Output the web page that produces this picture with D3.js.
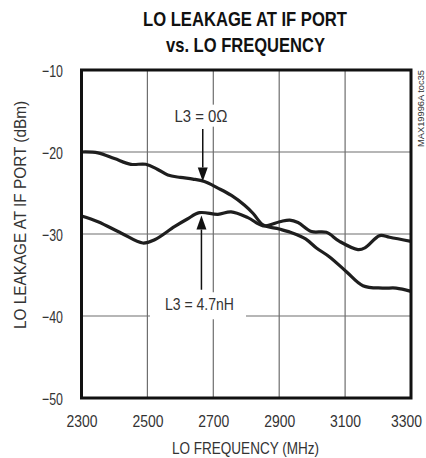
<!DOCTYPE html>
<html>
<head>
<meta charset="utf-8">
<script src="https://cdn.jsdelivr.net/npm/d3@7"></script>
<style>
  html, body { margin: 0; padding: 0; background: #fff; }
  svg { display: block; }
  text { font-family: "Liberation Sans Narrow", "Arial Narrow", "Liberation Sans", Arial, sans-serif; }
</style>
</head>
<body>
<svg id="chart" width="426" height="458"></svg>
<script>
// ---- data ----
const xTicks = [2300, 2500, 2700, 2900, 3100, 3300];
const yTicks = [-10, -20, -30, -40, -50];
const freq0 = [2300, 2350, 2400, 2450, 2495, 2530, 2562, 2600, 2638, 2673, 2714, 2755, 2795, 2821, 2851, 2900, 2942, 2980, 3013, 3053, 3104, 3154, 3214, 3255, 3300];
const val0  = [-20.0, -20.1, -20.8, -21.5, -21.5, -22.1, -22.8, -23.1, -23.3, -23.6, -24.4, -25.3, -26.5, -27.5, -28.9, -29.4, -29.9, -30.6, -31.7, -32.8, -34.6, -36.3, -36.6, -36.6, -37.0];
const freq47 = [2300, 2350, 2421, 2486, 2522, 2582, 2620, 2658, 2714, 2754, 2805, 2851, 2902, 2932, 2957, 2998, 3043, 3083, 3139, 3160, 3205, 3235, 3300];
const val47  = [-27.8, -28.5, -29.9, -31.1, -30.7, -29.1, -28.2, -27.4, -27.6, -27.3, -28.0, -29.0, -28.5, -28.3, -28.6, -29.7, -29.8, -30.9, -31.9, -31.7, -30.2, -30.4, -30.9];
const labels = ["L3 = 0\u03A9", "L3 = 4.7nH"];
// annotation anchors (data units): arrow x, tip value, tail value, label value
const arrow0  = { f: 2668, tip: -23.6, tail: -17.2, label: -16.3 };
const arrow47 = { f: 2664, tip: -27.75, tail: -36.8, label: -39.3 };

// ---- layout ----
const svg = d3.select("#chart");
const L = 81.5, R = 411, T = 70, B = 398;
const x = d3.scaleLinear().domain([2300, 3300]).range([L, R]);
const y = d3.scaleLinear().domain([-50, -10]).range([B, T]);

// title
svg.append("text").attr("x", 245).attr("y", 26).attr("text-anchor", "middle")
  .attr("font-weight", "bold").attr("font-size", 21).attr("fill", "#111")
  .attr("textLength", 204).attr("lengthAdjust", "spacingAndGlyphs")
  .text("LO LEAKAGE AT IF PORT");
svg.append("text").attr("x", 245.5).attr("y", 52).attr("text-anchor", "middle")
  .attr("font-weight", "bold").attr("font-size", 21).attr("fill", "#111")
  .attr("textLength", 159).attr("lengthAdjust", "spacingAndGlyphs")
  .text("vs. LO FREQUENCY");

// grid
const grid = svg.append("g");
grid.selectAll("line.gx").data(xTicks.slice(1, -1)).join("line")
  .attr("x1", d => x(d)).attr("x2", d => x(d)).attr("y1", T).attr("y2", B)
  .attr("stroke", "#6e6e6e").attr("stroke-width", 1.2);
grid.selectAll("line.gy").data(yTicks.slice(1, -1)).join("line")
  .attr("y1", d => y(d)).attr("y2", d => y(d)).attr("x1", L).attr("x2", R)
  .attr("stroke", "#6e6e6e").attr("stroke-width", 1.2);

// axes (labels only)
const xAxis = d3.axisBottom(x).tickValues(xTicks).tickSize(0).tickPadding(0).tickFormat(d3.format("d"));
const gx = svg.append("g").attr("transform", `translate(0,${B})`).call(xAxis);
gx.select(".domain").remove();
gx.selectAll("text").attr("dy", null).attr("y", 29).attr("font-size", 16).attr("fill", "#333")
  .attr("font-family", null)
  .attr("x", d => d === 3300 ? -5 : 0)
  .attr("textLength", 31).attr("lengthAdjust", "spacingAndGlyphs");

const yAxis = d3.axisLeft(y).tickValues(yTicks).tickSize(0).tickPadding(0).tickFormat(d3.format("d"));
const gy = svg.append("g").attr("transform", `translate(63,0)`).call(yAxis);
gy.select(".domain").remove();
gy.selectAll("text").attr("dy", null).attr("y", 6.5).attr("x", 0).attr("font-size", 17).attr("fill", "#333")
  .attr("font-family", null)
  .attr("textLength", 21).attr("lengthAdjust", "spacingAndGlyphs");

// axis titles
svg.append("text").attr("x", 245.5).attr("y", 454).attr("text-anchor", "middle")
  .attr("font-size", 16).attr("fill", "#333")
  .attr("textLength", 147).attr("lengthAdjust", "spacingAndGlyphs")
  .text("LO FREQUENCY (MHz)");
svg.append("text").attr("transform", `translate(26,215) rotate(-90)`).attr("text-anchor", "middle")
  .attr("font-size", 16).attr("fill", "#333")
  .attr("textLength", 228).attr("lengthAdjust", "spacingAndGlyphs")
  .text("LO LEAKAGE AT IF PORT (dBm)");
svg.append("text").attr("transform", `translate(424,147) rotate(-90)`).attr("text-anchor", "start")
  .attr("font-size", 9).attr("fill", "#333")
  .attr("textLength", 77).attr("lengthAdjust", "spacingAndGlyphs")
  .text("MAX19996A toc35");

// annotation label backgrounds
svg.append("rect").attr("x", 170).attr("y", y(arrow0.label) - 17).attr("width", 62).attr("height", 22).attr("fill", "#fff");
svg.append("rect").attr("x", 150).attr("y", y(arrow47.label) - 18).attr("width", 96).attr("height", 27).attr("fill", "#fff");

// curves
const line = d3.line().x(d => x(d[0])).y(d => y(d[1])).curve(d3.curveCatmullRom.alpha(0.5));
svg.append("path").datum(freq0.map((f, i) => [f, val0[i]])).attr("d", line)
  .attr("fill", "none").attr("stroke", "#1e1e1e").attr("stroke-width", 3.2).attr("stroke-linejoin", "round");
svg.append("path").datum(freq47.map((f, i) => [f, val47[i]])).attr("d", line)
  .attr("fill", "none").attr("stroke", "#1e1e1e").attr("stroke-width", 3.2).attr("stroke-linejoin", "round");

// arrows
function arrow(a, down) {
  const ax = x(a.f), tip = y(a.tip), tail = y(a.tail);
  const h = 14, w = 5;
  const base = down ? tip - h : tip + h;
  svg.append("line").attr("x1", ax).attr("x2", ax).attr("y1", tail).attr("y2", base)
    .attr("stroke", "#111").attr("stroke-width", 1.5);
  svg.append("path").attr("d", `M${ax},${tip}L${ax - w},${base}L${ax + w},${base}Z`).attr("fill", "#111");
}
arrow(arrow0, true);
arrow(arrow47, false);

svg.append("text").attr("x", 201).attr("y", y(arrow0.label)).attr("text-anchor", "middle")
  .attr("font-size", 16).attr("fill", "#333")
  .attr("textLength", 53).attr("lengthAdjust", "spacingAndGlyphs").text(labels[0]);
svg.append("text").attr("x", 199.5).attr("y", y(arrow47.label)).attr("text-anchor", "middle")
  .attr("font-size", 16).attr("fill", "#333")
  .attr("textLength", 69).attr("lengthAdjust", "spacingAndGlyphs").text(labels[1]);

// frame
svg.append("rect").attr("x", L).attr("y", T).attr("width", R - L).attr("height", B - T)
  .attr("fill", "none").attr("stroke", "#111").attr("stroke-width", 3);
</script>
</body>
</html>
